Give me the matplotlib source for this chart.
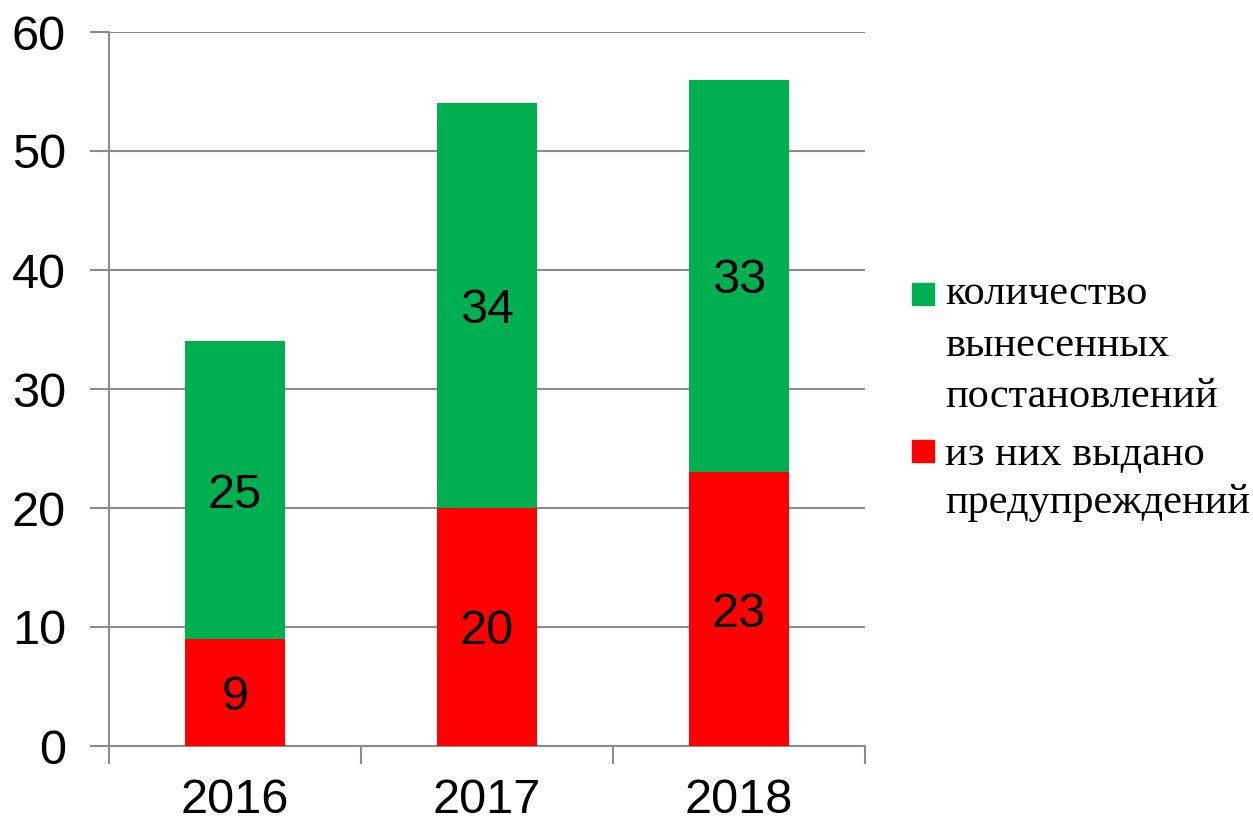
import numpy as np
import matplotlib.pyplot as plt
from matplotlib.patches import Rectangle

years = ["2016", "2017", "2018"]
warnings_issued = [9, 20, 23]
decisions_rest = [25, 34, 33]
label_total = ["количество", "вынесенных", "постановлений"]
label_warn = ["из них выдано", "предупреждений"]

green = "#00b050"
red = "#ff0000"
grid_col = "#8c8c8c"
W, H = 1253, 822

fig = plt.figure(figsize=(W / 100, H / 100), dpi=100)
ax = fig.add_axes([109 / W, 1 - 746 / H, (865 - 109) / W, (746 - 32) / H])

x = np.arange(len(years))
ax.bar(x, warnings_issued, width=0.4, color=red, zorder=3)
ax.bar(x, decisions_rest, width=0.4, bottom=warnings_issued, color=green, zorder=3)

for i in range(len(years)):
    ax.text(x[i], warnings_issued[i] / 2, str(warnings_issued[i]), ha="center", va="center_baseline",
            fontsize=35, family="Liberation Sans", zorder=4)
    ax.text(x[i], warnings_issued[i] + decisions_rest[i] / 2, str(decisions_rest[i]), ha="center",
            va="center_baseline", fontsize=35, family="Liberation Sans", zorder=4)

ax.set_xlim(-0.5, 2.5)
ax.set_ylim(0, 60)
ax.set_yticks(range(0, 61, 10))
ax.yaxis.grid(True, color=grid_col, linewidth=1.5)
ax.set_axisbelow(True)

ax.set_xticks(x)
ax.set_xticklabels(years)
ax.set_xticks([-0.5, 0.5, 1.5, 2.5], minor=True)
ax.tick_params(axis="x", which="major", length=0, pad=23)
ax.tick_params(axis="x", which="minor", length=13, width=1.5, color=grid_col, direction="out")
ax.tick_params(axis="y", length=14, width=1.5, color=grid_col, direction="out", pad=17)
for lab in ax.get_xticklabels() + ax.get_yticklabels():
    lab.set_fontsize(35)
    lab.set_family("Liberation Sans")

for s in ["top", "right"]:
    ax.spines[s].set_visible(False)
for s in ["left", "bottom"]:
    ax.spines[s].set_color(grid_col)
    ax.spines[s].set_linewidth(1.5)

# legend drawn by hand: square next to the first line of each entry
def legend_entry(lines, color, sq_top, first_baseline, step):
    fig.patches.append(Rectangle((912 / W, 1 - (sq_top + 22) / H), 22 / W, 22 / H,
                                 transform=fig.transFigure, color=color))
    for k, line in enumerate(lines):
        fig.text(945 / W, 1 - (first_baseline + k * step) / H, line, va="baseline",
                 ha="left", fontsize=30.5, family="Liberation Serif")

legend_entry(label_total, green, 283, 304, 51.5)
legend_entry(label_warn, red, 440, 465, 48)

fig.savefig("out.png", dpi=100)
